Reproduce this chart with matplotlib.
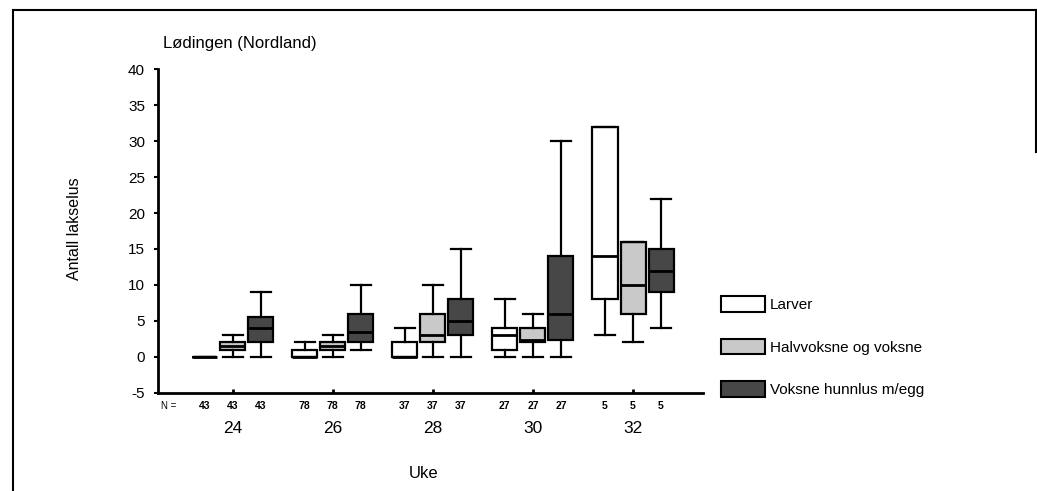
import matplotlib.pyplot as plt
from matplotlib.patches import Patch
from matplotlib.lines import Line2D

plt.rcParams['font.family'] = ['Liberation Sans', 'DejaVu Sans']
plt.rcParams['axes.unicode_minus'] = False

# Uker og antall fisk (N) per uke
weeks = ['24', '26', '28', '30', '32']
n_fish = [43, 78, 37, 27, 5]

# Boksplott-verdier per stadium: (whislo, q1, med, q3, whishi)
larver = [(0, 0, 0, 0, 0), (0, 0, 0, 1, 2), (0, 0, 0, 2, 4),
          (0, 1, 3, 4, 8), (3, 8, 14, 32, 32)]
halvvoksne = [(0, 1, 1.5, 2, 3), (0, 1, 1.5, 2, 3), (0, 2, 3, 6, 10),
              (0, 2, 2.3, 4, 6), (2, 6, 10, 16, 16)]
voksne = [(0, 2, 4, 5.6, 9), (1, 2, 3.4, 6, 10), (0, 3, 5, 8, 15),
          (0, 2.4, 6, 14, 30), (4, 9, 12, 15, 22)]

labels = ['Larver', 'Halvvoksne og voksne', 'Voksne hunnlus m/egg']
colors = ['white', '#c9c9c9', '#474747']
offsets = [-0.28, 0.0, 0.28]

fig = plt.figure(figsize=(10.37, 4.91), dpi=100)
ax = fig.add_axes([0.152, 0.2, 0.526, 0.659])

for series, color, off in zip([larver, halvvoksne, voksne], colors, offsets):
    stats = []
    for vals in series:
        lo, q1, med, q3, hi = vals
        stats.append(dict(whislo=lo, q1=q1, med=med, q3=q3, whishi=hi, fliers=[]))
    pos = [i + off for i in range(len(weeks))]
    ax.bxp(stats, positions=pos, widths=0.25, patch_artist=True, showfliers=False,
           boxprops=dict(facecolor=color, edgecolor='black', linewidth=1.6),
           medianprops=dict(color='black', linewidth=2),
           whiskerprops=dict(color='black', linewidth=1.6),
           capprops=dict(color='black', linewidth=1.6),
           capwidths=0.2)

ax.set_xlim(-0.75, 4.7)
ax.set_ylim(-5, 40)
ax.set_yticks(range(-5, 41, 5))
ax.tick_params(axis='y', labelsize=11, length=3, width=1.5, pad=6)
ax.set_xticks(range(len(weeks)))
ax.set_xticklabels([])
ax.tick_params(axis='x', length=3, width=2, direction='in')
for s in ['top', 'right']:
    ax.spines[s].set_visible(False)
ax.spines['left'].set_linewidth(2)
ax.spines['bottom'].set_linewidth(2)

# N-rad og uke-etiketter under aksen
ax.text(-0.72, -0.04, 'N =', transform=ax.get_xaxis_transform(), ha='left', va='center', fontsize=7)
for i, n in enumerate(n_fish):
    for off in offsets:
        ax.text(i + off, -0.04, str(n), transform=ax.get_xaxis_transform(),
                ha='center', va='center', fontsize=7.5, fontweight='bold')
    ax.text(i, -0.11, weeks[i], transform=ax.get_xaxis_transform(),
            ha='center', va='center', fontsize=12.5)

fig.text(0.408, 0.035, 'Uke', ha='center', va='center', fontsize=12)
fig.text(0.072, 0.535, 'Antall lakselus', rotation=90, ha='center', va='center', fontsize=11.5)
fig.text(0.157, 0.912, 'Lødingen (Nordland)', ha='left', va='center', fontsize=12)

handles = [Patch(facecolor=c, edgecolor='black', linewidth=1.5) for c in colors]
fig.legend(handles, labels, loc='upper left', bbox_to_anchor=(0.685, 0.418),
           frameon=False, fontsize=11, handlelength=2.9, handleheight=1.2,
           labelspacing=1.72, handletextpad=0.3, borderaxespad=0.3)

# Ytre ramme
fig.add_artist(Line2D([0.0125, 0.0125], [0.0, 0.98], transform=fig.transFigure, color='black', linewidth=1.5))
fig.add_artist(Line2D([0.0125, 0.999], [0.98, 0.98], transform=fig.transFigure, color='black', linewidth=1.5))
fig.add_artist(Line2D([0.999, 0.999], [0.98, 0.69], transform=fig.transFigure, color='black', linewidth=1.5))

fig.savefig('out.png', dpi=100)
